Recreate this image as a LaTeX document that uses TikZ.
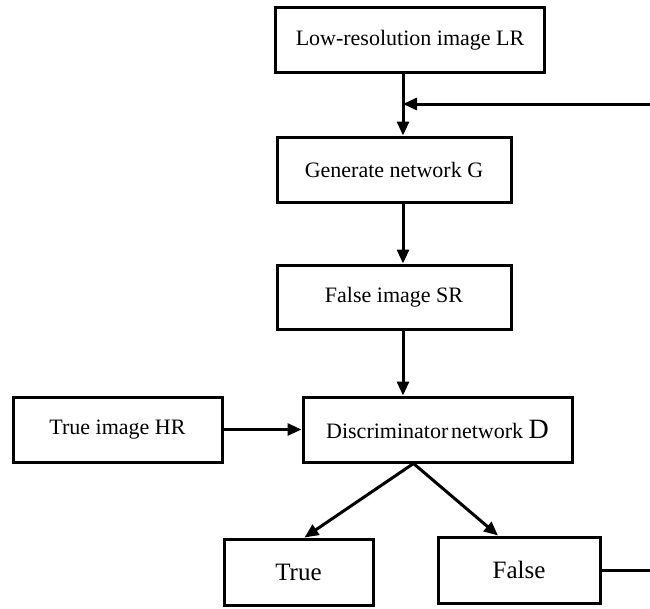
\documentclass[tikz,border=0pt]{standalone}
\usepackage{fontspec}
\setmainfont{Liberation Serif}
\usetikzlibrary{arrows.meta,calc}
\begin{document}
\begin{tikzpicture}[x=1pt,y=-1pt,
  box/.style={draw,line width=3pt,inner sep=0pt,align=center,font=\fontsize{22}{26}\selectfont},
  bigbox/.style={box,font=\fontsize{25}{29}\selectfont},
  arr/.style={line width=3pt,-{Triangle[length=14pt,width=12pt]}},
  ln/.style={line width=3pt}]
\useasboundingbox (0,0) rectangle (650,608);
\node[box,minimum width=269pt,minimum height=65pt] (lr) at (410,40) {Low-resolution image LR};
\node[box,minimum width=234pt,minimum height=65pt] (g) at (394,169.5) {Generate network G};
\node[box,minimum width=234pt,minimum height=64pt] (sr) at (394,297) {False image SR};
\node[box,minimum width=269pt,minimum height=65pt] (d) at (437.5,429.5) {Discriminator\hspace{0.12em}network {\fontsize{28}{30}\selectfont D}};
\node[box,minimum width=209pt,minimum height=65pt] (hr) at (117.5,429.5) {True image HR};
\node[bigbox,minimum width=149pt,minimum height=66pt] (t) at (298.5,572) {True};
\node[bigbox,minimum width=162pt,minimum height=66pt] (f) at (519,570) {False};
\coordinate (jx) at (403,0);
\coordinate (fbin) at (650,104);
\coordinate (fbout) at (650,570);
\coordinate (dp) at ($(d.south)+(-24,0)$);
\draw[arr] (lr.south -| jx) -- (g.north -| jx);
\draw[arr] (fbin) -- (fbin -| jx);
\draw[arr] (g.south -| jx) -- (sr.north -| jx);
\draw[arr] (sr.south -| jx) -- (d.north -| jx);
\draw[arr] (hr.east) -- (d.west);
\draw[arr] (dp) -- ($(t.north)+(6,0)$);
\draw[arr] (dp) -- ($(f.north)+(-21,0)$);
\draw[ln] (f.east) -- (fbout);
\end{tikzpicture}
\end{document}
